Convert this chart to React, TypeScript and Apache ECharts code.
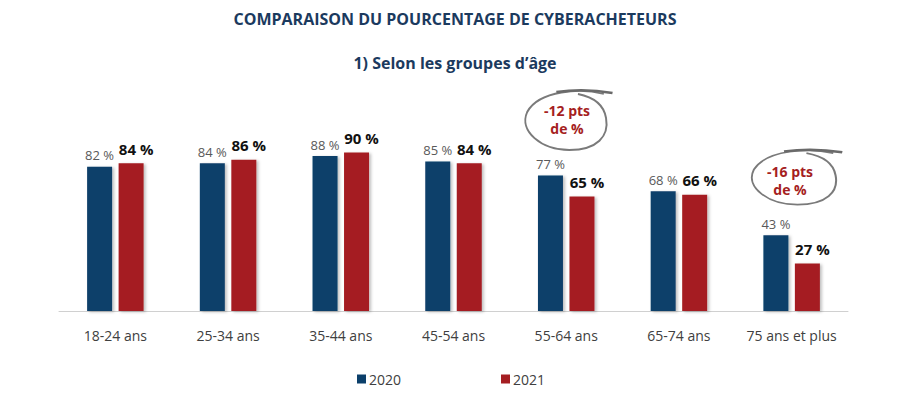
import React, { useEffect, useRef } from "react";
import * as echarts from "echarts";

const categories = ["18-24 ans", "25-34 ans", "35-44 ans", "45-54 ans", "55-64 ans", "65-74 ans", "75 ans et plus"];
const values2020 = [82, 84, 88, 85, 77, 68, 43];
const values2021 = [84, 86, 90, 84, 65, 66, 27];
const seriesNames = ["2020", "2021"];
const notes = [
  { category: "55-64 ans", text: "-12 pts\nde %" },
  { category: "75 ans et plus", text: "-16 pts\nde %" },
];

const BLUE = "#0B3F6A";
const RED = "#A51E22";
const FONT = "'Open Sans', 'Noto Sans', sans-serif";

echarts.graphic.registerShape(
  "sketchLoop",
  echarts.graphic.extendPath(
    "M 36 -27 C 15 -33 -24 -31 -35 -9 C -43 10 -22 29 4 29 C 30 29 41 15 38 -3 C 36 -16 26 -24 12 -27",
    {}
  )
);
echarts.graphic.registerShape(
  "sketchTop",
  echarts.graphic.extendPath("M -8 -29 Q 18 -33 44 -28", {})
);

export default function App() {
  const ref = useRef<HTMLDivElement>(null);
  useEffect(() => {
    if (!ref.current) return;
    const chart = echarts.init(ref.current, null, { renderer: "svg" });
    const shadow = { shadowColor: "rgba(0,0,0,0.25)", shadowBlur: 3, shadowOffsetX: 2, shadowOffsetY: 1 };
    const noteGraphics: any[] = [];
    const noteCenters = [
      { x: 565, y: 121, sx: 1.08, sy: 1.0, tx: 567, ty: 119 },
      { x: 793, y: 178, sx: 1.12, sy: 0.92, tx: 790, ty: 180 },
    ];
    notes.forEach((n, i) => {
      const c = noteCenters[i];
      noteGraphics.push({
        type: "sketchLoop",
        x: c.x,
        y: c.y,
        scaleX: c.sx,
        scaleY: c.sy,
        style: { fill: "none", stroke: "#7a7a7a", lineWidth: 1.8 },
        z: 10,
      });
      noteGraphics.push({
        type: "sketchTop",
        x: c.x,
        y: c.y,
        scaleX: c.sx,
        scaleY: c.sy,
        style: { fill: "none", stroke: "#6a6a6a", lineWidth: 2.6 },
        z: 10,
      });
      noteGraphics.push({
        type: "text",
        x: c.tx,
        y: c.ty,
        style: {
          text: n.text,
          fill: RED,
          font: `bold 14px ${FONT}`,
          align: "center",
          verticalAlign: "middle",
          lineHeight: 18,
        },
        z: 11,
      });
    });
    chart.setOption({
      animation: false,
      title: [
        {
          text: "COMPARAISON DU POURCENTAGE DE CYBERACHETEURS",
          left: "center",
          top: 6,
          textStyle: { fontFamily: FONT, fontSize: 16, fontWeight: "bold", color: "#1B3A5E" },
        },
        {
          text: "1) Selon les groupes d\u2019\u00e2ge",
          left: "center",
          top: 50,
          textStyle: { fontFamily: FONT, fontSize: 16, fontWeight: "bold", color: "#1B3A5E" },
        },
      ],
      legend: {
        bottom: 5,
        left: 352,
        itemGap: 100,
        itemWidth: 9,
        itemHeight: 9,
        icon: "rect",
        textStyle: { fontFamily: FONT, fontSize: 14, color: "#404040", padding: [0, 0, 0, -2] },
        data: seriesNames,
      },
      grid: { left: 59, right: 62, top: 135, bottom: 85, containLabel: false },
      xAxis: {
        type: "category",
        data: categories,
        axisLine: { lineStyle: { color: "#d0d0d0" } },
        axisTick: { show: false },
        axisLabel: { fontFamily: FONT, fontSize: 14, color: "#404040", margin: 17, interval: 0 },
      },
      yAxis: { type: "value", min: 0, max: 100, show: false, splitLine: { show: false } },
      series: [
        {
          name: seriesNames[0],
          type: "bar",
          data: values2020,
          barWidth: 25,
          barGap: "26%",
          itemStyle: { color: BLUE, ...shadow },
          label: {
            show: true,
            position: "top",
            distance: 5,
            formatter: "{c} %",
            fontFamily: FONT,
            fontSize: 13,
            color: "#595959",
          },
        },
        {
          name: seriesNames[1],
          type: "bar",
          data: values2021,
          barWidth: 25,
          itemStyle: { color: RED, ...shadow },
          label: {
            show: true,
            position: "top",
            distance: 7,
            offset: [5, 0],
            formatter: "{c} %",
            fontFamily: FONT,
            fontSize: 15,
            fontWeight: "bold",
            color: "#111",
          },
        },
      ],
      graphic: noteGraphics,
    });
    return () => chart.dispose();
  }, []);
  return <div ref={ref} style={{ position: "absolute", left: 0, top: 0, width: 910, height: 396 }} />;
}
